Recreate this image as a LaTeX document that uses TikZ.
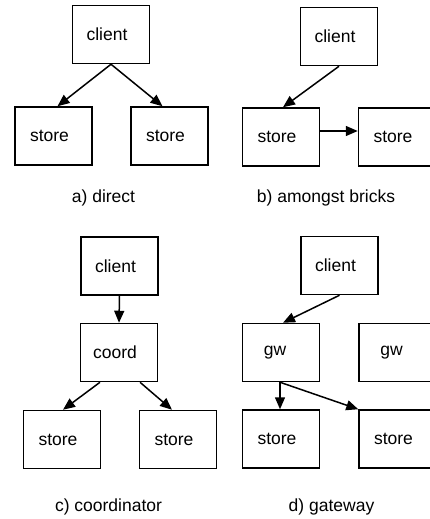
\documentclass[tikz,border=0pt]{standalone}
\usepackage{fontspec}
\setmainfont{Liberation Sans}
\usetikzlibrary{arrows.meta}
\begin{document}
\begin{tikzpicture}[x=1pt,y=-1pt,
  box/.style={draw, line width=1.5pt, rectangle, inner sep=0pt,
    minimum width=77pt, minimum height=58pt, font=\fontsize{17.5}{20}\selectfont,
    execute at end node={\kern8pt}},
  narrowbox/.style={box, execute at end node={\kern4pt}},
  caption/.style={inner sep=0pt, font=\fontsize{17.5}{20}\selectfont},
  link/.style={line width=1.5pt, -{Triangle[length=12pt,width=10pt]}}]
\useasboundingbox[fill=white] (0,0) rectangle (430,519);
\clip (0,0) rectangle (430,519);

% a) direct
\node[box] (aC) at (111,34.5) {client};
\node[box] (aS1) at (53.5,136) {store};
\node[box] (aS2) at (169.5,136) {store};
\draw[link] (aC.south) -- ([xshift=4pt]aS1.north);
\draw[link] (aC.south) -- ([xshift=-7pt]aS2.north);
\node[caption] (aL) at (103.5,198) {a) direct};

% b) amongst bricks
\node[box] (bC) at (339,36.5) {client};
\node[box] (bS1) at (281,137) {store};
\node[box] (bS2) at (397,137) {store};
\draw[link] (bC.south) -- ([xshift=2pt]bS1.north);
\draw[link] ([yshift=6pt]bS1.east) -- ([yshift=6pt]bS2.west);
\node[caption] (bL) at (326,198) {b) amongst bricks};

% c) coordinator
\node[box] (cC) at (119.5,266) {client};
\node[box] (cK) at (119,352.5) {coord};
\node[box] (cS1) at (62,439.5) {store};
\node[box] (cS2) at (178,439.5) {store};
\draw[link] (cC.south) -- (cK.north);
\draw[link] ([xshift=-19pt]cK.south) -- ([xshift=1pt]cS1.north);
\draw[link] ([xshift=21pt]cK.south) -- ([xshift=-6pt]cS2.north);
\node[caption] (cL) at (108.5,507) {c) coordinator};

% d) gateway
\node[box] (dC) at (339.5,265.5) {client};
\node[narrowbox] (dG1) at (281,352.5) {gw};
\node[narrowbox] (dG2) at (397.5,352.5) {gw};
\node[box] (dS1) at (281,439) {store};
\node[box] (dS2) at (397.5,439) {store};
\draw[link] (dC.south) -- ([xshift=2pt]dG1.north);
\draw[link] ([xshift=-1pt]dG1.south) -- ([xshift=-1pt]dS1.north);
\draw[link] ([xshift=-1pt]dG1.south) -- (dS2.north west);
\node[caption] (dL) at (331.5,507) {d) gateway};
\end{tikzpicture}
\end{document}
